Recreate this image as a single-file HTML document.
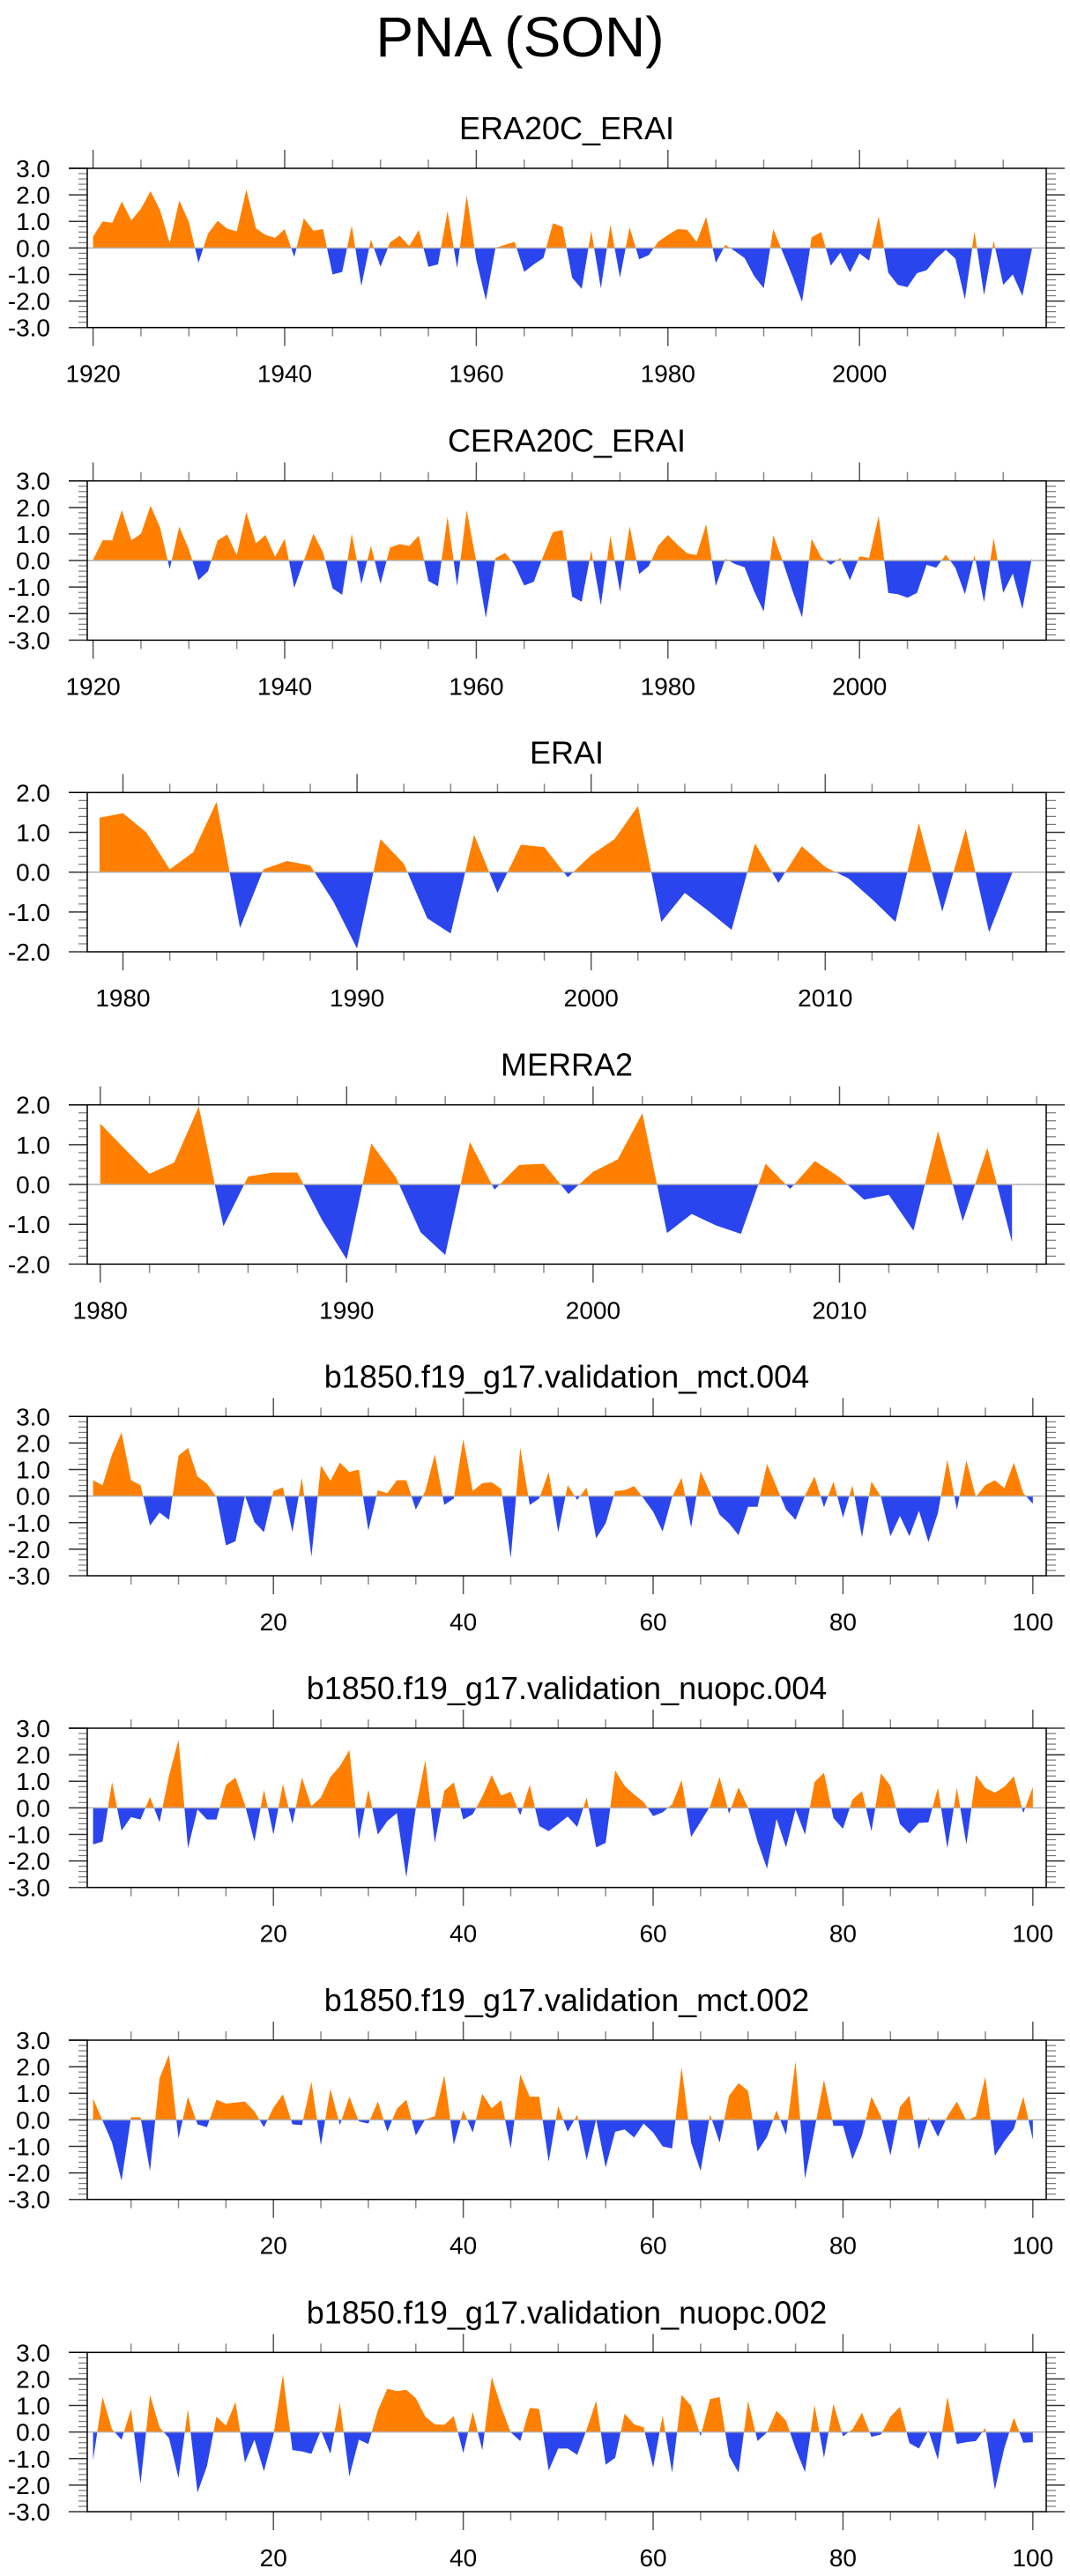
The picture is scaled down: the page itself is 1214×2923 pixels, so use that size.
<!DOCTYPE html>
<html><head><meta charset="utf-8"><style>
html,body{margin:0;padding:0;background:#fff}
svg{display:block;font-family:"Liberation Sans",Arial,sans-serif}
</style></head><body>
<svg id="fig" width="1214" height="2923" viewBox="0 0 1214 2923" xmlns="http://www.w3.org/2000/svg">
<text x="590" y="64" font-size="64" text-anchor="middle">PNA (SON)</text>
</svg>
<script>
// ---- data arrays ----
const years1 = []; for (let y = 1920; y <= 2018; y++) years1.push(y);
const era20cValues = [0.43,1.0,0.95,1.75,1.04,1.48,2.14,1.42,0.19,1.79,0.98,-0.56,0.54,1.02,0.73,0.62,2.2,0.74,0.49,0.38,0.71,-0.34,1.12,0.65,0.71,-1.0,-0.9,0.84,-1.43,0.32,-0.71,0.21,0.46,0.07,0.67,-0.71,-0.62,1.39,-0.76,1.98,-0.45,-1.97,0.0,0.12,0.23,-0.9,-0.62,-0.38,0.93,0.8,-1.12,-1.54,0.65,-1.52,0.87,-1.12,0.78,-0.43,-0.27,0.24,0.49,0.71,0.69,0.23,1.17,-0.56,0.12,-0.12,-0.38,-1.06,-1.52,0.71,-0.18,-1.06,-2.03,0.4,0.6,-0.67,-0.18,-0.92,-0.21,-0.48,1.2,-0.93,-1.39,-1.48,-0.95,-0.84,-0.4,-0.07,-0.4,-1.94,0.62,-1.78,0.27,-1.39,-1.0,-1.81,-0.02];
const cera20cValues = [0.04,0.76,0.76,1.9,0.76,1.01,2.07,1.24,-0.32,1.27,0.42,-0.74,-0.4,0.76,0.98,0.2,1.82,0.65,0.96,0.14,0.82,-1.03,0.0,1.01,0.31,-1.05,-1.29,1.01,-0.88,0.55,-0.88,0.49,0.62,0.55,0.94,-0.77,-0.97,1.65,-0.96,1.9,-0.05,-2.16,0.09,0.29,-0.16,-0.94,-0.8,0.18,1.07,1.15,-1.36,-1.55,0.38,-1.69,0.94,-1.18,1.29,-0.51,-0.21,0.57,0.96,0.6,0.27,0.21,1.37,-0.96,0.07,-0.13,-0.25,-1.16,-1.92,0.96,-0.04,-1.14,-2.14,0.82,0.12,-0.16,0.1,-0.74,0.16,0.1,1.68,-1.22,-1.27,-1.4,-1.22,-0.16,-0.27,0.22,-0.27,-1.27,0.2,-1.57,0.85,-1.22,-0.49,-1.83,0.12];
const years3 = []; for (let y = 1979; y <= 2018; y++) years3.push(y);
const eraiValues = [1.37,1.48,1.0,0.07,0.5,1.77,-1.4,0.07,0.28,0.17,-0.75,-1.92,0.83,0.21,-1.16,-1.54,0.94,-0.52,0.69,0.63,-0.13,0.43,0.83,1.66,-1.25,-0.52,-0.97,-1.45,0.72,-0.27,0.65,0.13,-0.16,-0.68,-1.25,1.23,-0.99,1.08,-1.51,0.0];
const years4 = []; for (let y = 1980; y <= 2017; y++) years4.push(y);
const merra2Values = [1.53,0.89,0.27,0.55,1.96,-1.05,0.2,0.3,0.3,-0.89,-1.88,1.03,0.18,-1.2,-1.77,1.07,-0.13,0.49,0.52,-0.24,0.32,0.63,1.79,-1.22,-0.74,-1.03,-1.24,0.52,-0.11,0.59,0.18,-0.38,-0.26,-1.16,1.34,-0.92,0.92,-1.45];
const modelYears = []; for (let i = 1; i <= 100; i++) modelYears.push(i);
const mct004Values = [0.6,0.41,1.57,2.4,0.6,0.41,-1.11,-0.62,-0.89,1.52,1.82,0.74,0.47,-0.03,-1.86,-1.7,0.02,-0.98,-1.36,0.19,0.33,-1.36,0.69,-2.28,1.15,0.58,1.26,0.91,1.0,-1.29,0.22,0.11,0.6,0.6,-0.51,0.19,1.57,-0.33,-0.09,2.15,0.19,0.49,0.52,0.27,-2.33,1.82,-0.33,-0.09,0.91,-1.36,0.41,-0.14,0.33,-1.59,-1.03,0.19,0.22,0.38,-0.09,-0.59,-1.33,-0.03,0.69,-1.18,0.93,0.13,-0.7,-1.03,-1.47,-0.4,-0.4,1.21,0.35,-0.51,-0.89,0.02,0.74,-0.42,0.55,-0.81,0.41,-1.55,0.55,-0.03,-1.51,-0.75,-1.51,-0.55,-1.73,-0.64,1.37,-0.51,1.35,-0.03,0.41,0.6,0.3,1.26,0.11,-0.29];
const nuopc004Values = [-1.38,-1.27,0.97,-0.86,-0.35,-0.44,0.41,-0.55,1.21,2.56,-1.52,-0.06,-0.44,-0.44,0.86,1.14,0.11,-1.27,0.68,-1.01,0.9,-0.61,1.14,0.06,0.39,1.16,1.57,2.18,-1.19,0.68,-1.01,-0.5,-0.2,-2.62,0.0,1.79,-1.32,0.64,0.96,-0.44,-0.24,0.42,1.23,0.46,0.61,-0.28,0.86,-0.68,-0.88,-0.61,-0.33,-0.72,0.39,-1.49,-1.32,1.41,0.83,0.5,0.22,-0.31,-0.17,0.13,1.05,-1.1,-0.53,0.06,1.16,-0.22,0.77,0.0,-1.27,-2.29,-0.42,-1.49,-0.06,-1.01,0.97,1.32,-0.39,-0.79,0.31,0.63,-0.88,1.3,0.83,-0.61,-0.97,-0.57,-0.55,0.75,-1.52,0.75,-1.38,1.23,0.75,0.57,0.79,1.19,-0.2,0.79];
const mct002Values = [0.8,-0.03,-0.86,-2.3,0.1,0.1,-1.93,1.57,2.45,-0.7,0.87,-0.17,-0.28,0.76,0.61,0.65,0.69,0.32,-0.28,0.46,0.96,-0.17,-0.2,1.43,-0.97,1.16,-0.2,0.87,-0.06,-0.14,0.69,-0.45,0.41,0.76,-0.59,0.02,0.13,1.68,-0.94,0.35,-0.48,0.98,0.43,0.74,-1.08,1.71,0.87,0.87,-1.58,0.52,-0.45,0.19,-1.52,0.02,-1.8,-0.45,-0.36,-0.67,-0.14,-0.48,-1.0,-1.08,1.98,-0.86,-1.93,0.21,-0.86,0.91,1.38,1.09,-1.19,-0.64,0.35,-0.56,2.2,-2.22,-0.36,1.51,-0.23,-0.23,-1.49,-0.59,0.87,0.13,-1.34,0.49,0.91,-1.12,0.1,-0.64,0.13,0.69,-0.03,0.13,1.62,-1.36,-0.81,-0.34,0.87,-0.75];
const nuopc002Values = [-1.06,1.32,0.1,-0.29,0.87,-1.95,1.4,0.18,-0.23,-1.73,0.87,-2.28,-1.28,0.58,0.24,1.13,-1.15,-0.29,-1.48,-0.12,2.17,-0.68,-0.73,-0.82,0.07,-0.82,1.1,-1.67,-0.29,-0.45,0.82,1.63,1.54,1.59,1.28,0.58,0.29,0.27,0.6,-0.79,0.76,-0.68,2.07,0.93,-0.01,-0.34,0.91,0.87,-1.45,-0.62,-0.62,-0.86,0.1,1.17,-1.23,-0.97,0.69,0.29,0.18,-1.34,0.62,-1.53,1.4,0.99,-0.16,1.24,1.32,-0.9,-1.53,1.17,-0.34,-0.01,0.8,0.43,-0.62,-1.51,1.02,-0.97,1.06,-0.16,0.1,0.73,-0.18,-0.09,0.58,0.95,-0.42,-0.62,0.07,-1.04,1.32,-0.45,-0.38,-0.34,0.16,-2.17,-0.6,0.54,-0.4,-0.38];
const yTicks3 = ["3.0","2.0","1.0","0.0","-1.0","-2.0","-3.0"];
const yTicks2 = ["2.0","1.0","0.0","-1.0","-2.0"];
const xLabels1 = [1920,1940,1960,1980,2000];
const xLabels3 = [1980,1990,2000,2010];
const xLabelsModel = [20,40,60,80,100];

// ---- layout ----
const NS = "http://www.w3.org/2000/svg";
const svg = document.getElementById('fig');
const BL = 99, BR = 1187, BH = 180.7;
const tops = [191, 545.7, 899.3, 1253.7, 1607.3, 1961, 2315, 2669.3];
function mk(tag, attrs, parent) {
  const e = document.createElementNS(NS, tag);
  for (const k in attrs) e.setAttribute(k, attrs[k]);
  (parent || svg).appendChild(e);
  return e;
}
const panels = [
  {title:"ERA20C_ERAI", x:years1, v:era20cValues, ymax:3, yt:yTicks3, x0:1920, px0:105.6, dx:10.87, labels:xLabels1, minStart:1920, minEnd:2015, minStep:5},
  {title:"CERA20C_ERAI", x:years1, v:cera20cValues, ymax:3, yt:yTicks3, x0:1920, px0:105.6, dx:10.87, labels:xLabels1, minStart:1920, minEnd:2015, minStep:5},
  {title:"ERAI", x:years3, v:eraiValues, ymax:2, yt:yTicks2, x0:1980, px0:139.5, dx:26.56, labels:xLabels3, minStart:1980, minEnd:2018, minStep:2},
  {title:"MERRA2", x:years4, v:merra2Values, ymax:2, yt:yTicks2, x0:1980, px0:113.7, dx:27.96, labels:xLabels3, minStart:1980, minEnd:2018, minStep:2},
  {title:"b1850.f19_g17.validation_mct.004", x:modelYears, v:mct004Values, ymax:3, yt:yTicks3, x0:1, px0:105.6, dx:10.77, labels:xLabelsModel, minStart:5, minEnd:100, minStep:5},
  {title:"b1850.f19_g17.validation_nuopc.004", x:modelYears, v:nuopc004Values, ymax:3, yt:yTicks3, x0:1, px0:105.6, dx:10.77, labels:xLabelsModel, minStart:5, minEnd:100, minStep:5},
  {title:"b1850.f19_g17.validation_mct.002", x:modelYears, v:mct002Values, ymax:3, yt:yTicks3, x0:1, px0:105.6, dx:10.77, labels:xLabelsModel, minStart:5, minEnd:100, minStep:5},
  {title:"b1850.f19_g17.validation_nuopc.002", x:modelYears, v:nuopc002Values, ymax:3, yt:yTicks3, x0:1, px0:105.6, dx:10.77, labels:xLabelsModel, minStart:5, minEnd:100, minStep:5}
];
const defs = mk('defs', {});
panels.forEach((p, k) => {
  const top = tops[k], bot = top + BH;
  const xs = t => p.px0 + (t - p.x0) * p.dx;
  const ys = v => top + (p.ymax - v) / (2 * p.ymax) * BH;
  const y0 = ys(0);
  const g = mk('g', {});
  
  
  const t = mk('text', {x:(BL + BR) / 2, y:top - 33, 'font-size':36, 'text-anchor':'middle'}, g);
  t.textContent = p.title;
  
  
  // clip paths
  const cu = mk('clipPath', {id:'cu' + k}, defs);
  mk('rect', {x:BL, y:top, width:BR - BL, height:y0 - top}, cu);
  const cd = mk('clipPath', {id:'cd' + k}, defs);
  mk('rect', {x:BL, y:y0, width:BR - BL, height:bot - y0}, cd);
  let d = 'M' + xs(p.x[0]) + ',' + y0;
  p.v.forEach((v, i) => { d += ' L' + xs(p.x[i]).toFixed(2) + ',' + ys(v).toFixed(2); });
  d += ' L' + xs(p.x[p.x.length - 1]) + ',' + y0 + ' Z';
  const pos = mk('path', {d:d, fill:'#ff8000', 'clip-path':'url(#cu' + k + ')'}, g);
  
  
  const neg = mk('path', {d:d, fill:'#2a45ee', 'clip-path':'url(#cd' + k + ')'}, g);
  
  
  const zl = mk('line', {x1:BL, x2:BR, y1:y0, y2:y0, stroke:'#b0b0b0', 'stroke-width':1.5}, g);
  
  
  // y ticks
  const n = p.yt.length;
  for (let j = 0; j < n; j++) {
    const yy = top + j * BH / (n - 1);
    mk('line', {x1:78, x2:BL, y1:yy, y2:yy, stroke:'#333', 'stroke-width':1.5}, g);
    mk('line', {x1:BR, x2:1208, y1:yy, y2:yy, stroke:'#333', 'stroke-width':1.5}, g);
    const lb = mk('text', {x:57, y:yy + 10, 'font-size':28, 'text-anchor':'end'}, g);
    lb.textContent = p.yt[j];
    
    
    if (j < n - 1) for (let m = 1; m < 5; m++) {
      const ym = yy + m * BH / (n - 1) / 5;
      mk('line', {x1:89, x2:BL, y1:ym, y2:ym, stroke:'#777', 'stroke-width':1.2}, g);
      mk('line', {x1:BR, x2:1198, y1:ym, y2:ym, stroke:'#777', 'stroke-width':1.2}, g);
    }
  }
  // x ticks
  for (let v = p.minStart; v <= p.minEnd; v += p.minStep) {
    const xx = xs(v);
    const major = p.labels.indexOf(v) >= 0;
    const L = major ? 21 : 10;
    mk('line', {x1:xx, x2:xx, y1:bot, y2:bot + L, stroke:major ? '#555' : '#888', 'stroke-width':1.5}, g);
    mk('line', {x1:xx, x2:xx, y1:top - L, y2:top, stroke:major ? '#555' : '#888', 'stroke-width':1.5}, g);
  }
  p.labels.forEach(v => {
    const lb = mk('text', {x:xs(v), y:bot + 62, 'font-size':28, 'text-anchor':'middle'}, g);
    lb.textContent = v;
    
    
  });
  const box = mk('rect', {x:BL, y:top, width:BR - BL, height:BH, fill:'none', stroke:'#000', 'stroke-width':1.5}, g);
  
  
  mk('line', {x1:78, x2:BL, y1:top, y2:top, stroke:'#000', 'stroke-width':1.5}, g);
});
</script>
</body></html>
